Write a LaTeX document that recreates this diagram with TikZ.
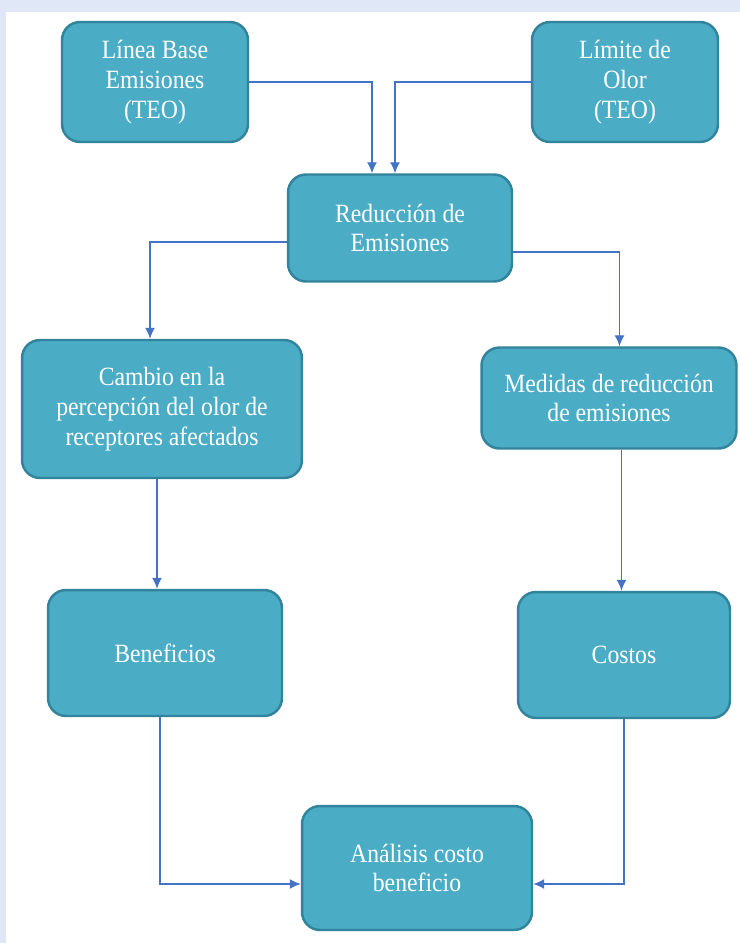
\documentclass[tikz,border=0pt]{standalone}
\usepackage{fontspec}
\setmainfont{Liberation Serif}
\newfontfamily\boxfont{Liberation Serif}[FakeStretch=0.9]
\usetikzlibrary{arrows.meta}
\definecolor{tealfill}{RGB}{75,172,198}
\definecolor{tealline}{RGB}{49,132,155}
\definecolor{arrowblue}{RGB}{68,114,196}
\definecolor{paleblue}{RGB}{224,232,248}
\tikzset{%
  >={Latex[width=2mm,length=2.2mm]},
  % Specifications for style of nodes:
          base/.style = {rectangle, rounded corners=0.36cm, draw=tealline,
                         line width=1.4pt, fill=tealfill, text=white,
                         align=center, font=\boxfont\fontsize{15}{17}\selectfont},
       topbox/.style = {base, minimum width=3.72cm, minimum height=2.4cm}, %upper pair
      sidebox/.style = {base, minimum width=4.4cm, minimum height=2.52cm}, %lower pair
         flow/.style = {->, draw=arrowblue, line width=0.8pt},
}

\begin{document}
\begin{tikzpicture}[x=0.02cm, y=-0.02cm]
  % Background (fixes the size of the page)
  \fill[paleblue] (0,0) rectangle (740,943);
  \fill[white] (6,12) rectangle (740,943);
  \useasboundingbox (0,0) rectangle (740,943);

  % Specification of nodes (position, etc.)
  \node (linea)      [topbox] at (155,82) {Línea Base\\Emisiones\\(TEO)};
  \node (limite)     [topbox] at (625,82) {Límite de\\Olor\\(TEO)};
  \node (reduccion)  [base, minimum width=4.48cm, minimum height=2.14cm] at (400,228) {Reducción de\\Emisiones};
  \node (cambio)     [base, minimum width=5.6cm, minimum height=2.76cm] at (162,409) {Cambio en la\\percepción del olor de\\receptores afectados};
  \node (medidas)    [base, minimum width=5.1cm, minimum height=2.02cm] at (609,398) {Medidas de reducción\\de emisiones};
  \node (beneficios) [sidebox, minimum width=4.68cm] at (165,653) {Beneficios};
  \node (costos)     [sidebox, minimum width=4.24cm] at (624,655) {Costos};
  \node (analisis)   [base, minimum width=4.6cm, minimum height=2.48cm] at (417,868) {Análisis costo\\beneficio};

  \draw[flow] (linea.east) -| ([xshift=-0.56cm]reduccion.north);
  \draw[flow] (limite.west) -| ([xshift=-0.1cm]reduccion.north);

  \draw[flow] ([yshift=-0.28cm]reduccion.west) -| ([xshift=-0.24cm]cambio.north);
  \draw[flow] ([yshift=-0.48cm]reduccion.east) -| ([xshift=0.21cm]medidas.north);

  \draw[flow] ([xshift=-0.1cm]cambio.south) -- ([xshift=-0.1cm]cambio.south |- beneficios.north);
  \draw[flow] ([xshift=0.25cm]medidas.south) -- ([xshift=0.25cm]medidas.south |- costos.north);

  \draw[flow] ([xshift=-0.1cm]beneficios.south) |- ([yshift=-0.32cm]analisis.west);
  \draw[flow] (costos.south) |- ([yshift=-0.32cm]analisis.east);
\end{tikzpicture}
\end{document}
